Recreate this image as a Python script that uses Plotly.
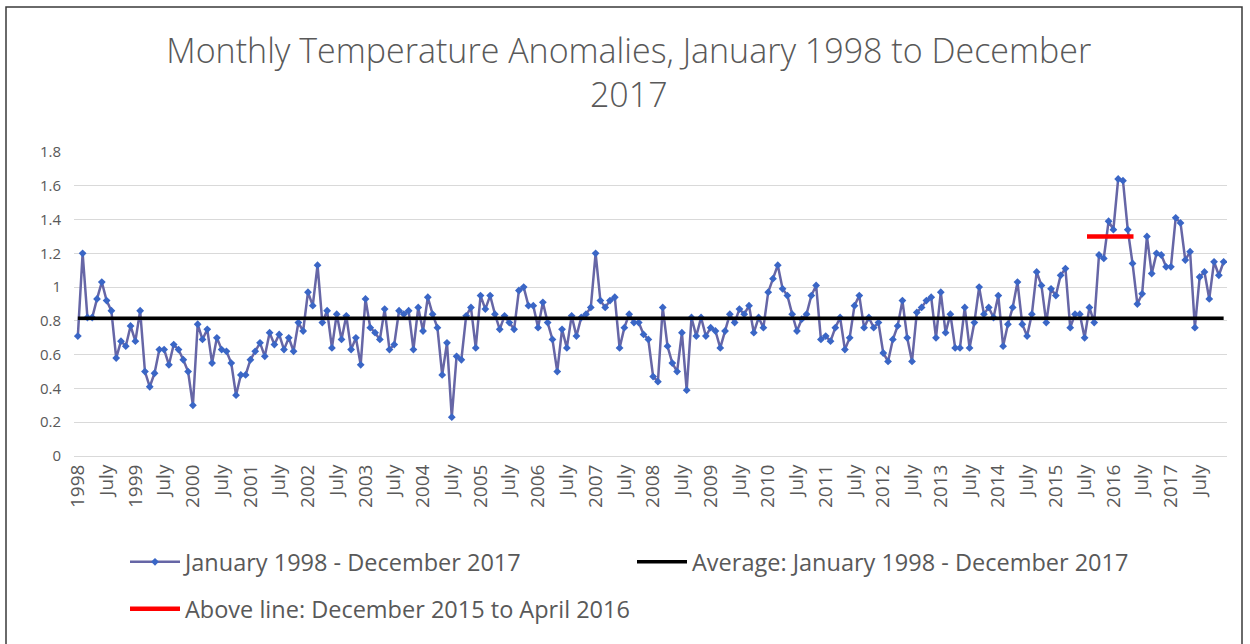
import plotly.graph_objects as go

# ---- data (monthly anomalies) ----
years = list(range(1998, 2018))
anom_1998_2001 = [0.71, 1.20, 0.82, 0.82, 0.93, 1.03, 0.92, 0.86, 0.58, 0.68, 0.65, 0.77,
                  0.68, 0.86, 0.50, 0.41, 0.49, 0.63, 0.63, 0.54, 0.66, 0.63, 0.57, 0.50,
                  0.30, 0.78, 0.69, 0.75, 0.55, 0.70, 0.63, 0.62, 0.55, 0.36, 0.48, 0.48,
                  0.57, 0.62, 0.67, 0.59, 0.73, 0.66, 0.72, 0.63, 0.70, 0.62, 0.79, 0.74]
anom_2002_2005 = [0.97, 0.89, 1.13, 0.79, 0.86, 0.64, 0.84, 0.69, 0.83, 0.63, 0.70, 0.54,
                  0.93, 0.76, 0.73, 0.69, 0.87, 0.63, 0.66, 0.86, 0.84, 0.86, 0.63, 0.88,
                  0.74, 0.94, 0.84, 0.76, 0.48, 0.67, 0.23, 0.59, 0.57, 0.83, 0.88, 0.64,
                  0.95, 0.87, 0.95, 0.84, 0.75, 0.83, 0.79, 0.75, 0.98, 1.00, 0.89, 0.89]
anom_2006_2009 = [0.76, 0.91, 0.79, 0.69, 0.50, 0.75, 0.64, 0.83, 0.71, 0.82, 0.84, 0.88,
                  1.20, 0.92, 0.88, 0.92, 0.94, 0.64, 0.76, 0.84, 0.79, 0.79, 0.72, 0.69,
                  0.47, 0.44, 0.88, 0.65, 0.55, 0.50, 0.73, 0.39, 0.82, 0.71, 0.82, 0.71,
                  0.76, 0.74, 0.64, 0.74, 0.84, 0.79, 0.87, 0.84, 0.89, 0.73, 0.82, 0.76]
anom_2010_2013 = [0.97, 1.05, 1.13, 0.99, 0.95, 0.84, 0.74, 0.81, 0.84, 0.95, 1.01, 0.69,
                  0.71, 0.68, 0.76, 0.82, 0.63, 0.70, 0.89, 0.95, 0.76, 0.82, 0.76, 0.79,
                  0.61, 0.56, 0.69, 0.77, 0.92, 0.70, 0.56, 0.85, 0.88, 0.92, 0.94, 0.70,
                  0.97, 0.73, 0.84, 0.64, 0.64, 0.88, 0.64, 0.79, 1.00, 0.84, 0.88, 0.82]
anom_2014_2017 = [0.95, 0.65, 0.78, 0.88, 1.03, 0.78, 0.71, 0.84, 1.09, 1.01, 0.79, 0.99,
                  0.95, 1.07, 1.11, 0.76, 0.84, 0.84, 0.70, 0.88, 0.79, 1.19, 1.17, 1.39,
                  1.34, 1.64, 1.63, 1.34, 1.14, 0.90, 0.96, 1.30, 1.08, 1.20, 1.19, 1.12,
                  1.12, 1.41, 1.38, 1.16, 1.21, 0.76, 1.06, 1.09, 0.93, 1.15, 1.07, 1.15]
anomalies = anom_1998_2001 + anom_2002_2005 + anom_2006_2009 + anom_2010_2013 + anom_2014_2017
months = list(range(len(anomalies)))

average_value = 0.815
above_line_months = [210.5, 220.2]
above_line_value = 1.30

tick_positions = [m for m in months if m % 6 == 0]
tick_labels = [str(years[m // 12]) if m % 12 == 0 else "July" for m in tick_positions]

series_name = "January 1998 - December 2017"
avg_name = "Average: January 1998 - December 2017"
above_name = "Above line: December 2015 to April 2016"

FONT = "Open Sans"
GREY = "#595959"

fig = go.Figure()
fig.add_trace(go.Scatter(
    x=months, y=anomalies, mode="lines+markers", name=series_name,
    line=dict(color="#6666a6", width=2.5),
    marker=dict(color="#3a66c6", size=6, symbol="diamond", line=dict(width=0)),
    legend="legend",
))
fig.add_trace(go.Scatter(
    x=months, y=[average_value] * len(months), mode="lines", name=avg_name,
    line=dict(color="#000000", width=3.5), legend="legend",
))
fig.add_trace(go.Scatter(
    x=above_line_months, y=[above_line_value] * len(above_line_months), mode="lines",
    name=above_name, line=dict(color="#ff0000", width=4.5), legend="legend2",
))

L, R, T, B = 74, 23, 152, 188
W, H = 1250, 644
pw, ph = W - L - R, H - T - B

def px_to_paper_x(px):
    return (px - L) / pw

def px_to_paper_y(py):
    return (H - B - py) / ph

fig.update_layout(
    width=W, height=H,
    margin=dict(l=L, r=R, t=T, b=B),
    paper_bgcolor="white", plot_bgcolor="white",
    font=dict(family=FONT, color=GREY, size=15),
    title=dict(
        text="Monthly Temperature Anomalies, January 1998 to December<br>2017",
        x=0.503, xanchor="center", y=1 - 63 / H, yanchor="top",
        font=dict(family=FONT, size=34, color=GREY, weight=300),
    ),
    xaxis=dict(
        range=[-0.8, 239.7], tickmode="array", tickvals=tick_positions, ticktext=tick_labels,
        tickangle=-90, showgrid=False, zeroline=False, showline=True,
        linecolor="#d9d9d9", linewidth=1, ticks="", tickfont=dict(size=19, color=GREY),
    ),
    yaxis=dict(
        range=[0, 1.8], dtick=0.2, tick0=0, showgrid=True, gridcolor="#d9d9d9", gridwidth=1,
        zeroline=False, showline=False, ticks="", tickfont=dict(size=15, color=GREY),
        ticklabelstandoff=12,
    ),
    legend=dict(
        orientation="h", x=px_to_paper_x(125), y=px_to_paper_y(562),
        xanchor="left", yanchor="middle", font=dict(size=23.5, color=GREY),
        entrywidth=442, entrywidthmode="pixels", itemwidth=50, bgcolor="rgba(0,0,0,0)",
    ),
    legend2=dict(
        orientation="h", x=px_to_paper_x(125), y=px_to_paper_y(609),
        xanchor="left", yanchor="middle", font=dict(size=23.5, color=GREY),
        itemwidth=50, bgcolor="rgba(0,0,0,0)",
    ),
    showlegend=True,
    shapes=[dict(
        type="rect", xref="paper", yref="paper",
        x0=px_to_paper_x(6), x1=px_to_paper_x(1242),
        y0=px_to_paper_y(660), y1=px_to_paper_y(7),
        line=dict(color="#3a3a3a", width=1.5), fillcolor="rgba(0,0,0,0)", layer="above",
    )],
)

fig.write_html(
    "out.html",
    config={"displayModeBar": False},
    post_script="document.body.style.margin='0';document.body.style.overflow='hidden';",
)
